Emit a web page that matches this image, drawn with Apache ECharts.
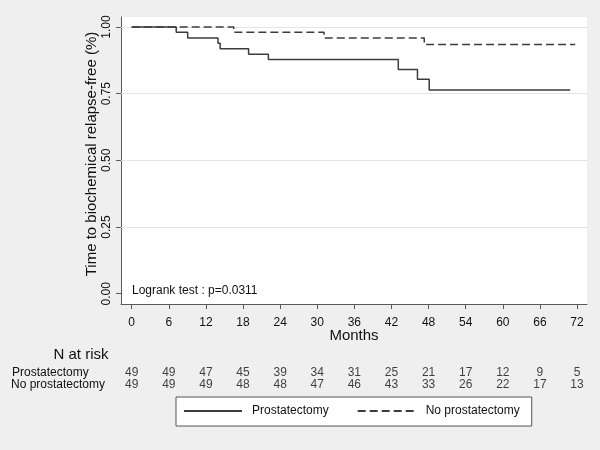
<!DOCTYPE html>
<html>
<head>
<meta charset="utf-8">
<script src="https://cdn.jsdelivr.net/npm/echarts@6/dist/echarts.min.js"></script>
<style>
html,body{margin:0;padding:0;background:#efefef;}
#chart{width:600px;height:450px;}
</style>
</head>
<body>
<div id="chart"></div>
<script>
// ---- data ----
const months = [0, 6, 12, 18, 24, 30, 36, 42, 48, 54, 60, 66, 72];
const atRiskProst = [49, 49, 47, 45, 39, 34, 31, 25, 21, 17, 12, 9, 5];
const atRiskNo = [49, 49, 49, 48, 48, 47, 46, 43, 33, 26, 22, 17, 13];
const prostTimes = [0, 7.2, 9.05, 13.95, 14.3, 18.9, 22.1, 43.1, 46.2, 48.1, 70.9];
const prostSurv = [1, 0.980, 0.959, 0.939, 0.918, 0.898, 0.878, 0.841, 0.804, 0.764, 0.764];
const noProstTimes = [0, 16.5, 31.1, 47.3, 71.7];
const noProstSurv = [1, 0.980, 0.959, 0.934, 0.934];
const yTicks = [0, 0.25, 0.5, 0.75, 1];
const gridLevels = [0.25, 0.5, 0.75, 1];
const groupNames = ['Prostatectomy', 'No prostatectomy'];
const yTitle = 'Time to biochemical relapse-free (%)';
const xTitle = 'Months';
const riskTitle = 'N at risk';
const logrankText = 'Logrank test : p=0.0311';

// ---- chart ----
const FF = '"Liberation Sans", Arial, sans-serif';
const TXT = '#111111';
const LINE = '#3c3c3c';
const AX = '#5a5a5a';
const xMin = -1.73, xMax = 73.61;
const yMin = -0.0386, yMax = 1.0375;

const chart = echarts.init(document.getElementById('chart'), null, {renderer: 'canvas'});
const riskLabel = {show: true, position: 'inside', fontSize: 12, fontFamily: FF, color: TXT,
  formatter: p => String(p.value[2])};
const option = {
  animation: false,
  backgroundColor: '#efefef',
  textStyle: {fontFamily: FF, color: TXT},
  grid: [
    {left: 121, top: 17, width: 466, height: 287, show: true, backgroundColor: '#ffffff', borderWidth: 0, containLabel: false},
    {left: 121, top: 372.2, width: 466, height: 12.3, show: false, containLabel: false}
  ],
  xAxis: [
    {
      gridIndex: 0, type: 'value', min: xMin, max: xMax,
      axisLine: {show: true, onZero: false, lineStyle: {color: AX, width: 1}},
      axisTick: {show: true, length: 5, customValues: months, lineStyle: {color: AX}},
      axisLabel: {show: true, customValues: months, margin: 13, fontSize: 12, fontFamily: FF, color: TXT},
      splitLine: {show: false},
      name: xTitle, nameLocation: 'middle', nameGap: 24, nameMoveOverlap: false,
      nameTextStyle: {fontSize: 15, fontFamily: FF, color: TXT}
    },
    {gridIndex: 1, type: 'value', min: xMin, max: xMax, show: false}
  ],
  yAxis: [
    {
      gridIndex: 0, type: 'value', min: yMin, max: yMax,
      axisLine: {show: true, onZero: false, lineStyle: {color: AX, width: 1}},
      axisTick: {show: true, length: 5, customValues: yTicks, lineStyle: {color: AX}},
      axisLabel: {show: true, customValues: yTicks, rotate: 90, margin: 8, fontSize: 12, fontFamily: FF, color: TXT,
        formatter: v => Number(v).toFixed(2)},
      splitLine: {show: false},
      name: yTitle, nameLocation: 'middle', nameGap: 22, nameMoveOverlap: false,
      nameTextStyle: {fontSize: 15, fontFamily: FF, color: TXT, padding: [0, 0, 0, 13]}
    },
    {gridIndex: 1, type: 'value', min: 0, max: 1, show: false}
  ],
  legend: {
    left: 176, top: 397, orient: 'horizontal',
    padding: [8, 12, 9, 7], itemGap: 28, itemWidth: 58, itemHeight: 14,
    borderColor: '#555', borderWidth: 1, backgroundColor: '#ffffff',
    itemStyle: {color: 'rgba(0,0,0,0)', borderColor: 'rgba(0,0,0,0)', borderWidth: 0, opacity: 0},
    textStyle: {fontSize: 12, fontFamily: FF, color: TXT, padding: [0, 0, 0, 5]},
    data: groupNames
  },
  series: [
    {
      name: '_grid', type: 'line', xAxisIndex: 0, yAxisIndex: 0, data: [], silent: true,
      markLine: {
        silent: true, symbol: 'none', z: 1, animation: false,
        label: {show: false},
        lineStyle: {color: '#e4e4e4', width: 1, type: 'solid'},
        data: gridLevels.map(v => ({yAxis: v}))
      }
    },
    {
      name: groupNames[0], type: 'line', step: 'end', z: 3,
      xAxisIndex: 0, yAxisIndex: 0, showSymbol: false, symbol: 'none',
      lineStyle: {color: LINE, width: 1.5, type: 'solid'},
      itemStyle: {color: LINE},
      data: prostTimes.map((t, i) => [t, prostSurv[i]])
    },
    {
      name: groupNames[1], type: 'line', step: 'end', z: 3,
      xAxisIndex: 0, yAxisIndex: 0, showSymbol: false, symbol: 'none',
      lineStyle: {color: LINE, width: 1.5, type: [8, 4]},
      itemStyle: {color: LINE},
      data: noProstTimes.map((t, i) => [t, noProstSurv[i]])
    },
    {
      name: 'risk1', type: 'scatter', xAxisIndex: 1, yAxisIndex: 1,
      symbolSize: 1, itemStyle: {color: 'rgba(0,0,0,0)'}, silent: true,
      label: riskLabel,
      data: months.map((m, i) => [m, 1, atRiskProst[i]])
    },
    {
      name: 'risk2', type: 'scatter', xAxisIndex: 1, yAxisIndex: 1,
      symbolSize: 1, itemStyle: {color: 'rgba(0,0,0,0)'}, silent: true,
      label: riskLabel,
      data: months.map((m, i) => [m, 0, atRiskNo[i]])
    }
  ],
  graphic: [
    {type: 'text', x: 132, y: 291, silent: true,
      style: {text: logrankText, font: '12px ' + FF, fill: TXT, align: 'left', verticalAlign: 'middle'}},
    {type: 'text', x: 81, y: 355, silent: true,
      style: {text: riskTitle, font: '15px ' + FF, fill: TXT, align: 'center', verticalAlign: 'middle'}},
    {type: 'text', x: 12, y: 372.5, silent: true,
      style: {text: groupNames[0], font: '12px ' + FF, fill: TXT, align: 'left', verticalAlign: 'middle'}},
    {type: 'text', x: 11, y: 385, silent: true,
      style: {text: groupNames[1], font: '12px ' + FF, fill: TXT, align: 'left', verticalAlign: 'middle'}}
  ]
};
chart.setOption(option);
</script>
</body>
</html>
